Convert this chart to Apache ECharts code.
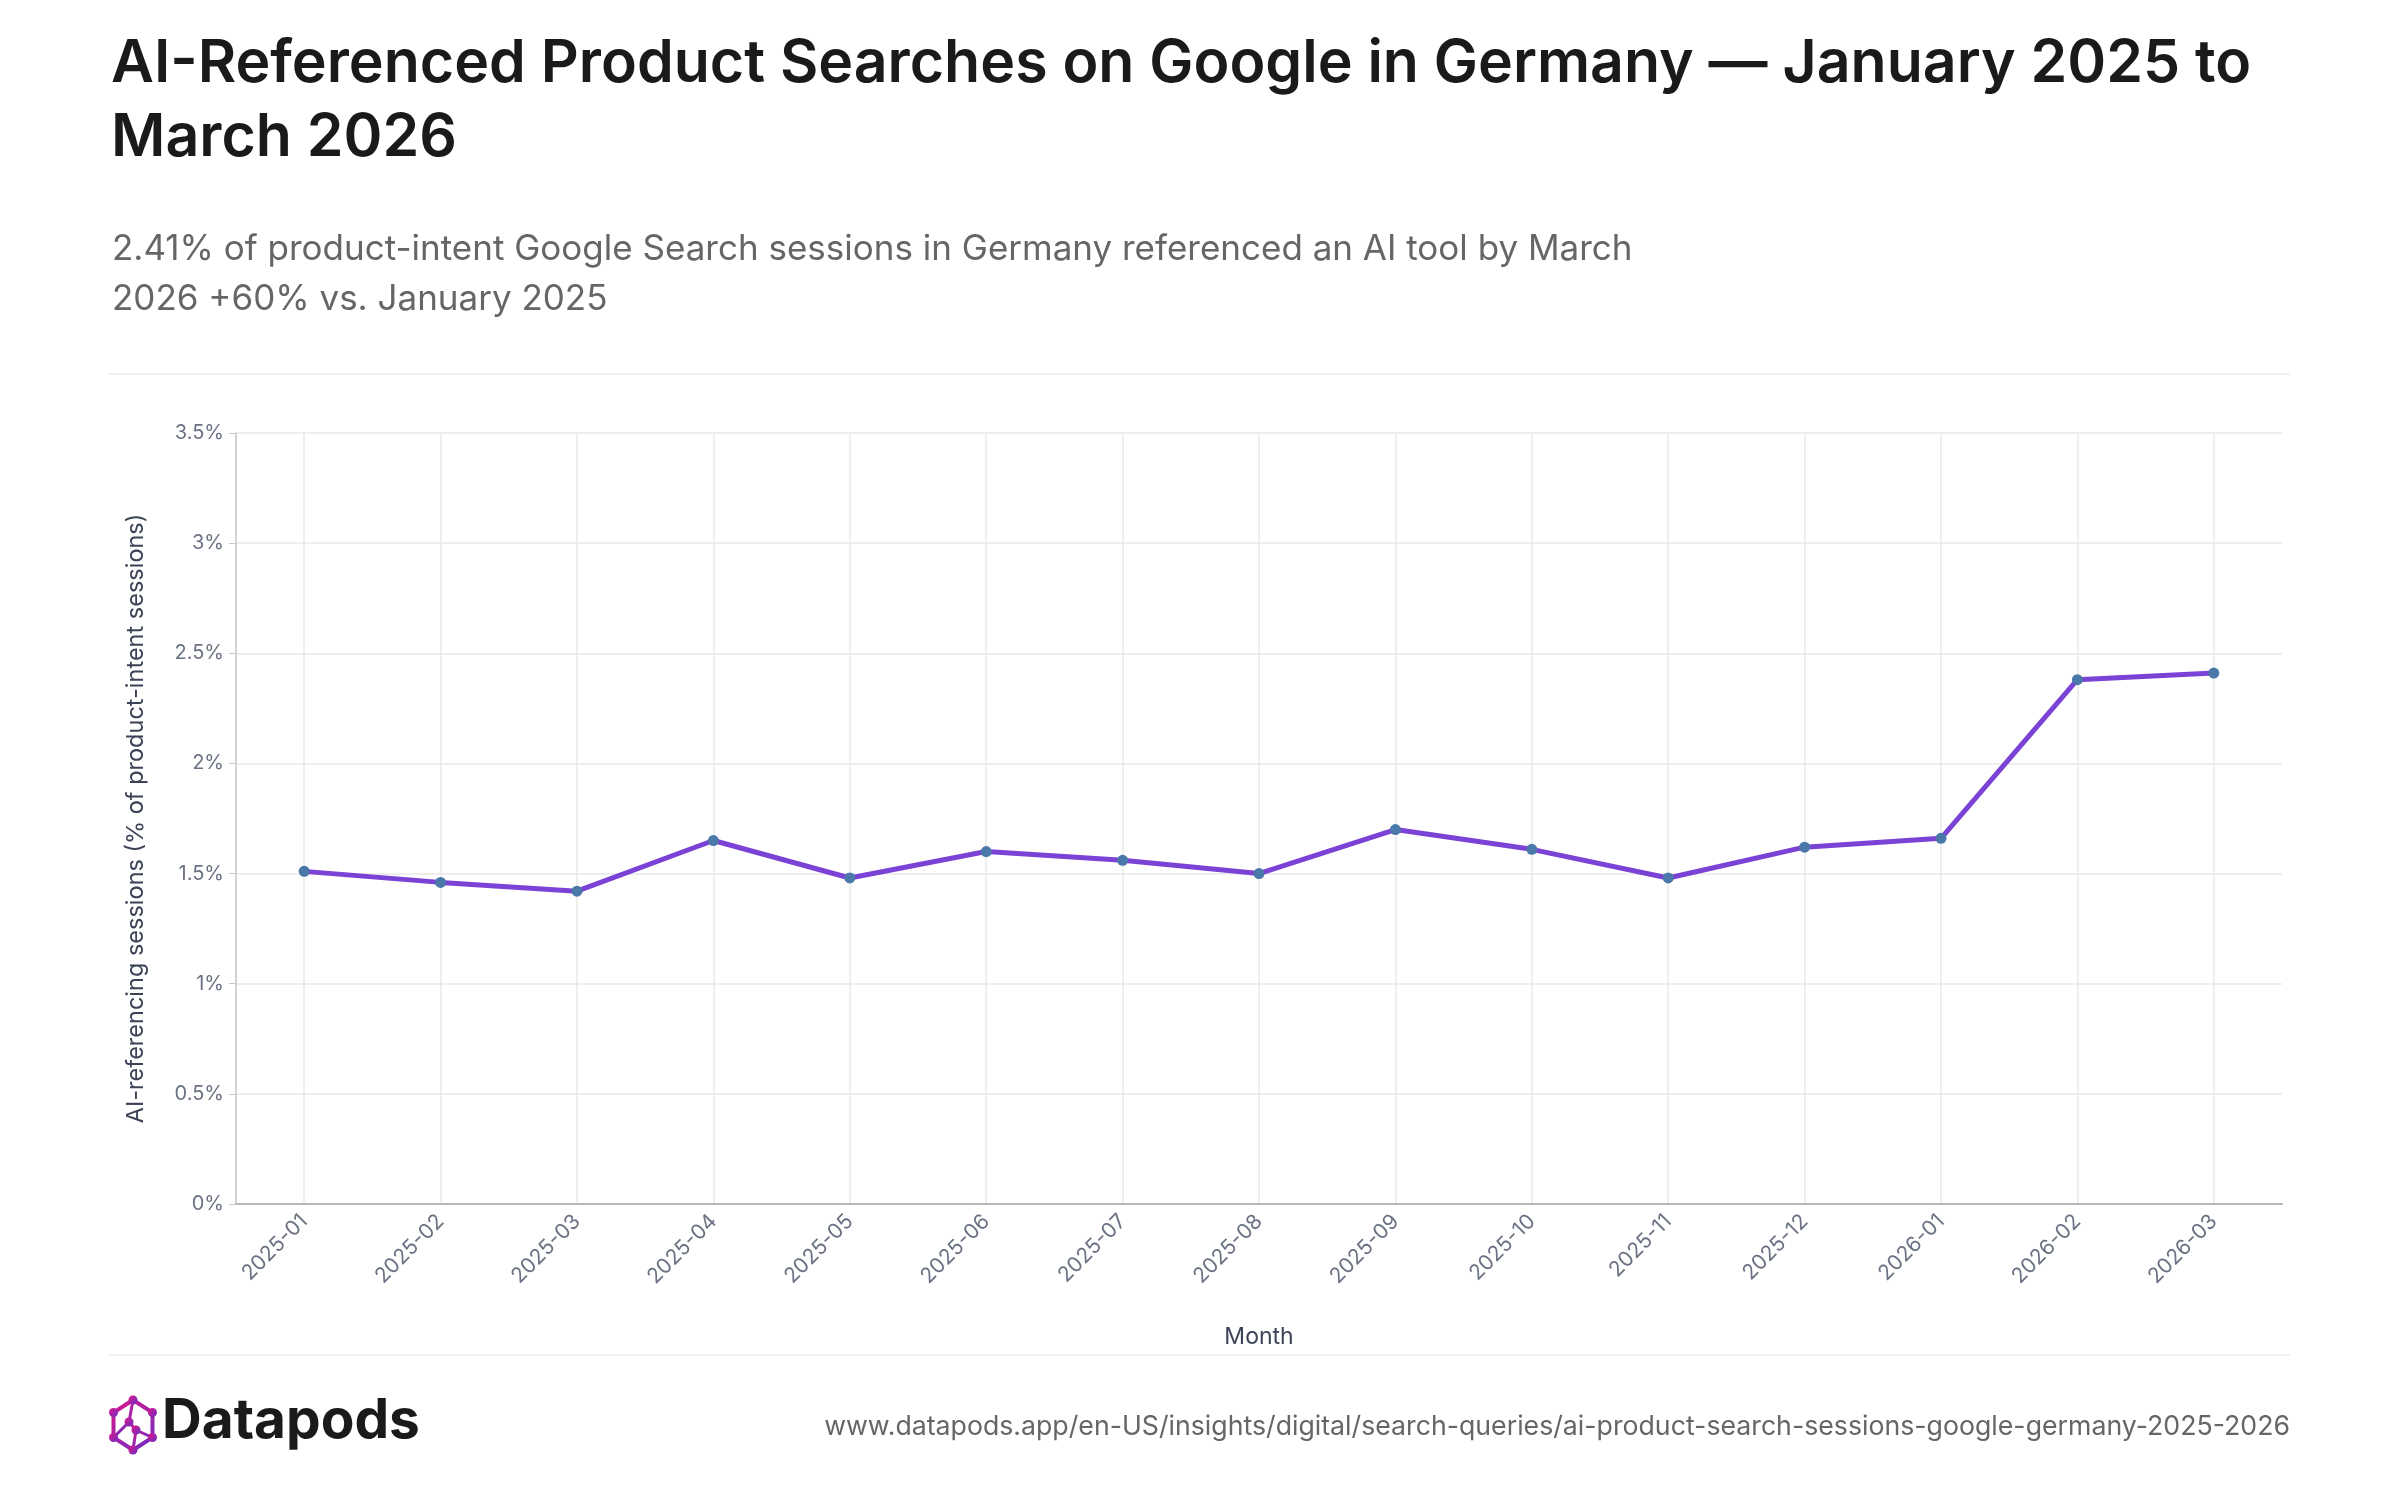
<!DOCTYPE html>
<html>
<head>
<meta charset="utf-8">
<script src="https://cdn.jsdelivr.net/npm/echarts@6/dist/echarts.min.js"></script>
<style>
  html, body { margin: 0; padding: 0; background: #fff; }
  #chart { width: 2400px; height: 1500px; }
</style>
</head>
<body>
<div id="chart"></div>
<script>
// months on the x axis
const months = ['2025-01', '2025-02', '2025-03', '2025-04', '2025-05', '2025-06', '2025-07',
  '2025-08', '2025-09', '2025-10', '2025-11', '2025-12', '2026-01', '2026-02', '2026-03'];
// share of product-intent sessions referencing an AI tool, in %
const shares = [1.51, 1.46, 1.42, 1.65, 1.48, 1.60, 1.56, 1.50, 1.70, 1.61, 1.48, 1.62, 1.66, 2.38, 2.41];

const titleText = 'AI-Referenced Product Searches on Google in Germany \u2014 January 2025 to\nMarch 2026';
const subText = '2.41% of product-intent Google Search sessions in Germany referenced an AI tool by March\n2026 +60% vs. January 2025';
const sourceText = 'www.datapods.app/en-US/insights/digital/search-queries/ai-product-search-sessions-google-germany-2025-2026';

const font = 'Inter, "Noto Sans", sans-serif';
const chart = echarts.init(document.getElementById('chart'));

// logo: small hexagon network
const cx = 133, cy = 1425, r = 25;
const hex = [];
for (let i = 0; i < 6; i++) {
  const a = Math.PI / 180 * (60 * i - 90);
  hex.push([cx + r * 0.9 * Math.cos(a), cy + r * Math.sin(a)]);
}
const logoGrad = new echarts.graphic.LinearGradient(0, 0, 1, 1, [
  { offset: 0, color: '#e0148a' },
  { offset: 1, color: '#6a2fc4' }
]);
const logo = [
  { type: 'polygon', shape: { points: hex }, style: { fill: null, stroke: logoGrad, lineWidth: 4 } },
  { type: 'polyline', shape: { points: [hex[0], [cx - 4, cy - 3], hex[4]] }, style: { fill: null, stroke: logoGrad, lineWidth: 3 } },
  { type: 'polyline', shape: { points: [[cx - 4, cy - 3], [cx + 3, cy + 5], hex[2]] }, style: { fill: null, stroke: logoGrad, lineWidth: 3 } },
  { type: 'line', shape: { x1: cx + 3, y1: cy + 5, x2: hex[3][0], y2: hex[3][1] }, style: { stroke: logoGrad, lineWidth: 3 } }
];
hex.concat([[cx - 4, cy - 3], [cx + 3, cy + 5]]).forEach(p => {
  logo.push({ type: 'circle', shape: { cx: p[0], cy: p[1], r: 4.5 }, style: { fill: logoGrad } });
});

const option = {
  backgroundColor: '#fff',
  animation: false,
  title: [
    {
      text: titleText,
      left: 106,
      top: 22,
      textStyle: { fontFamily: font, fontSize: 59, fontWeight: 600, color: '#1a1a1a', lineHeight: 74 }
    },
    {
      text: subText,
      left: 107,
      top: 219,
      textStyle: { fontFamily: font, fontSize: 35, fontWeight: 400, color: '#666666', lineHeight: 50 }
    }
  ],
  grid: { left: 236, right: 118, top: 433, bottom: 296 },
  xAxis: {
    type: 'category',
    data: months,
    boundaryGap: true,
    name: 'Month',
    nameLocation: 'middle',
    nameGap: 122,
    nameTextStyle: { fontFamily: font, fontSize: 23, color: '#3c4356' },
    axisLine: { lineStyle: { color: '#b8b8b8', width: 2 } },
    axisTick: { alignWithLabel: true, length: 7, lineStyle: { color: '#c8c8c8' } },
    axisLabel: { rotate: 45, margin: 14, fontFamily: font, fontSize: 21, color: '#6b7283' },
    splitLine: { show: true, alignWithLabel: true, lineStyle: { color: '#e8e8e8', width: 1.5 } }
  },
  yAxis: {
    type: 'value',
    min: 0,
    max: 3.5,
    interval: 0.5,
    name: 'AI-referencing sessions (% of product-intent sessions)',
    nameLocation: 'middle',
    nameGap: 88,
    nameTextStyle: { fontFamily: font, fontSize: 23.5, color: '#3c4356' },
    axisLine: { show: true, lineStyle: { color: '#c4c4c4', width: 1.5 } },
    axisTick: { show: true, length: 7, lineStyle: { color: '#c8c8c8' } },
    axisLabel: { formatter: '{value}%', margin: 12, fontFamily: font, fontSize: 20, color: '#6b7283' },
    splitLine: { lineStyle: { color: '#e8e8e8', width: 1.5 } }
  },
  series: [
    {
      type: 'line',
      data: shares,
      symbol: 'circle',
      symbolSize: 11,
      lineStyle: { color: '#7b42d6', width: 5 },
      itemStyle: { color: '#4a78a8' }
    }
  ],
  graphic: [
    { type: 'rect', shape: { x: 109, y: 373, width: 2181, height: 2 }, style: { fill: '#f1f1f1' } },
    { type: 'rect', shape: { x: 109, y: 1354, width: 2181, height: 2 }, style: { fill: '#f1f1f1' } },
    { type: 'group', children: logo },
    {
      type: 'text', left: 162, top: 1394,
      style: { text: 'Datapods', font: '700 55px ' + font, fill: '#1a1a1a' }
    },
    {
      type: 'text', right: 110, top: 1413,
      style: { text: sourceText, font: '400 26.7px ' + font, fill: '#666666' }
    }
  ]
};

chart.setOption(option);
</script>
</body>
</html>
